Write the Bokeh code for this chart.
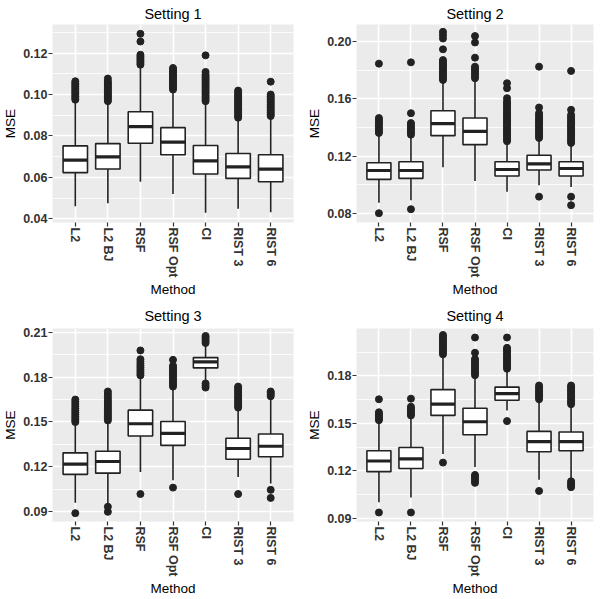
from bokeh.plotting import figure
from bokeh.models import FactorRange, Range1d, FixedTicker, ColumnDataSource
from bokeh.layouts import gridplot
from bokeh.transform import dodge
from bokeh.embed import file_html
from bokeh.resources import INLINE

methods = ["L2", "L2 BJ", "RSF", "RSF Opt", "CI", "RIST 3", "RIST 6"]

# ---- Setting 1 ----
s1_lo = [0.0460, 0.0475, 0.0579, 0.0520, 0.0429, 0.0448, 0.0432]
s1_q1 = [0.0623, 0.0640, 0.0765, 0.0709, 0.0616, 0.0595, 0.0579]
s1_med = [0.0683, 0.0699, 0.0845, 0.0770, 0.0680, 0.0651, 0.0640]
s1_q3 = [0.0752, 0.0763, 0.0917, 0.0840, 0.0754, 0.0715, 0.0709]
s1_hi = [0.0968, 0.0960, 0.1135, 0.1018, 0.0960, 0.0882, 0.0888]
s1_out = [
    [0.0975, 0.0983, 0.0991, 0.0999, 0.1007, 0.1015, 0.1023, 0.1031, 0.1039, 0.1047, 0.1055, 0.1064],
    [0.0968, 0.0976, 0.0984, 0.0992, 0.1000, 0.1008, 0.1016, 0.1024, 0.1032, 0.1040, 0.1048, 0.1056, 0.1064, 0.1077],
    [0.1144, 0.1152, 0.1160, 0.1168, 0.1176, 0.1184, 0.1192, 0.1256, 0.1293],
    [0.1024, 0.1032, 0.1040, 0.1048, 0.1056, 0.1064, 0.1072, 0.1080, 0.1088, 0.1096, 0.1104, 0.1112, 0.1120, 0.1128],
    [0.0968, 0.0976, 0.0984, 0.0992, 0.1000, 0.1008, 0.1016, 0.1024, 0.1032, 0.1040, 0.1048, 0.1056, 0.1064, 0.1072, 0.1080, 0.1088, 0.1096, 0.1109, 0.1189],
    [0.0888, 0.0896, 0.0904, 0.0912, 0.0920, 0.0928, 0.0936, 0.0944, 0.0952, 0.0960, 0.0968, 0.0976, 0.0984, 0.0992, 0.1000, 0.1010, 0.1019],
    [0.0896, 0.0904, 0.0912, 0.0920, 0.0928, 0.0936, 0.0944, 0.0952, 0.0960, 0.0968, 0.0976, 0.0984, 0.0992, 0.1000, 0.1062],
]
s1_ticks = [0.04, 0.06, 0.08, 0.10, 0.12]
s1_labels = ["0.04", "0.06", "0.08", "0.10", "0.12"]
s1_minor = [0.05, 0.07, 0.09, 0.11, 0.13]

# ---- Setting 2 ----
s2_lo = [0.0874, 0.0890, 0.1122, 0.1025, 0.0951, 0.0995, 0.0983]
s2_q1 = [0.1037, 0.1044, 0.1343, 0.1280, 0.1060, 0.1102, 0.1060]
s2_med = [0.1099, 0.1099, 0.1427, 0.1373, 0.1106, 0.1146, 0.1113]
s2_q3 = [0.1153, 0.1160, 0.1517, 0.1466, 0.1160, 0.1206, 0.1160]
s2_hi = [0.1355, 0.1345, 0.1725, 0.1735, 0.1300, 0.1320, 0.1288]
s2_out = [
    [0.0800, 0.1362, 0.1375, 0.1388, 0.1401, 0.1414, 0.1427, 0.1440, 0.1453, 0.1466, 0.1847],
    [0.0828, 0.1350, 0.1363, 0.1376, 0.1389, 0.1402, 0.1415, 0.1431, 0.1500, 0.1856],
    [0.1733, 0.1746, 0.1760, 0.1774, 0.1788, 0.1802, 0.1816, 0.1830, 0.1844, 0.1858, 0.1872, 0.1947, 0.2023, 0.2047, 0.2070],
    [0.1745, 0.1758, 0.1772, 0.1786, 0.1800, 0.1813, 0.1826, 0.1889, 0.1995, 0.2040],
    [0.1304, 0.1317, 0.1330, 0.1343, 0.1356, 0.1369, 0.1382, 0.1395, 0.1408, 0.1421, 0.1434, 0.1447, 0.1460, 0.1473, 0.1486, 0.1499, 0.1512, 0.1525, 0.1540, 0.1555, 0.1570, 0.1582, 0.1605, 0.1675, 0.1710],
    [0.0916, 0.1327, 0.1340, 0.1353, 0.1366, 0.1379, 0.1392, 0.1405, 0.1418, 0.1431, 0.1444, 0.1457, 0.1470, 0.1485, 0.1500, 0.1540, 0.1826],
    [0.0856, 0.0916, 0.1292, 0.1305, 0.1318, 0.1331, 0.1344, 0.1357, 0.1370, 0.1383, 0.1396, 0.1409, 0.1422, 0.1435, 0.1448, 0.1461, 0.1474, 0.1489, 0.1524, 0.1796],
]
s2_ticks = [0.08, 0.12, 0.16, 0.20]
s2_labels = ["0.08", "0.12", "0.16", "0.20"]
s2_minor = [0.10, 0.14, 0.18]

# ---- Setting 3 ----
s3_lo = [0.0958, 0.0952, 0.1164, 0.1110, 0.1765, 0.1131, 0.1088]
s3_q1 = [0.1149, 0.1157, 0.1406, 0.1343, 0.1862, 0.1250, 0.1267]
s3_med = [0.1218, 0.1235, 0.1488, 0.1423, 0.1903, 0.1322, 0.1337]
s3_q3 = [0.1293, 0.1304, 0.1579, 0.1503, 0.1931, 0.1391, 0.1419]
s3_hi = [0.1490, 0.1500, 0.1805, 0.1730, 0.2025, 0.1590, 0.1665]
s3_out = [
    [0.0889, 0.1499, 0.1512, 0.1525, 0.1538, 0.1551, 0.1564, 0.1577, 0.1590, 0.1605, 0.1620, 0.1635, 0.1650],
    [0.0898, 0.0932, 0.1510, 0.1523, 0.1536, 0.1549, 0.1562, 0.1575, 0.1588, 0.1601, 0.1614, 0.1627, 0.1640, 0.1655, 0.1670, 0.1687, 0.1704],
    [0.1017, 0.1812, 0.1825, 0.1838, 0.1851, 0.1864, 0.1877, 0.1890, 0.1905, 0.1920, 0.1979],
    [0.1060, 0.1737, 0.1750, 0.1763, 0.1776, 0.1789, 0.1802, 0.1815, 0.1828, 0.1841, 0.1854, 0.1866, 0.1877, 0.1916],
    [0.1730, 0.1744, 0.1758, 0.2029, 0.2041, 0.2053, 0.2065, 0.2076],
    [0.1017, 0.1596, 0.1609, 0.1622, 0.1635, 0.1648, 0.1661, 0.1674, 0.1687, 0.1700, 0.1713, 0.1726, 0.1737],
    [0.0991, 0.1045, 0.1672, 0.1685, 0.1695, 0.1704],
]
s3_ticks = [0.09, 0.12, 0.15, 0.18, 0.21]
s3_labels = ["0.09", "0.12", "0.15", "0.18", "0.21"]
s3_minor = [0.105, 0.135, 0.165, 0.195]

# ---- Setting 4 ----
s4_lo = [0.1002, 0.1032, 0.1306, 0.1225, 0.1581, 0.1144, 0.1124]
s4_q1 = [0.1195, 0.1215, 0.1550, 0.1428, 0.1646, 0.1321, 0.1327]
s4_med = [0.1262, 0.1276, 0.1621, 0.1510, 0.1688, 0.1384, 0.1384]
s4_q3 = [0.1327, 0.1347, 0.1713, 0.1595, 0.1729, 0.1449, 0.1445]
s4_hi = [0.1515, 0.1540, 0.1930, 0.1800, 0.1840, 0.1648, 0.1615]
s4_out = [
    [0.0937, 0.1520, 0.1530, 0.1540, 0.1550, 0.1560, 0.1570, 0.1652],
    [0.0937, 0.1550, 0.1560, 0.1570, 0.1582, 0.1594, 0.1605, 0.1656],
    [0.1252, 0.1936, 0.1948, 0.1960, 0.1972, 0.1984, 0.1996, 0.2008, 0.2020, 0.2032, 0.2045, 0.2058],
    [0.1124, 0.1137, 0.1150, 0.1162, 0.1174, 0.1804, 0.1817, 0.1830, 0.1843, 0.1856, 0.1869, 0.1882, 0.1894, 0.1906, 0.1946, 0.2042],
    [0.1514, 0.1845, 0.1857, 0.1869, 0.1881, 0.1893, 0.1905, 0.1917, 0.1929, 0.1941, 0.1953, 0.1965, 0.1977, 0.2042],
    [0.1073, 0.1652, 0.1664, 0.1676, 0.1688, 0.1700, 0.1712, 0.1725, 0.1739],
    [0.1097, 0.1110, 0.1122, 0.1134, 0.1621, 0.1633, 0.1645, 0.1657, 0.1669, 0.1681, 0.1693, 0.1705, 0.1717, 0.1728, 0.1739],
]
s4_ticks = [0.09, 0.12, 0.15, 0.18]
s4_labels = ["0.09", "0.12", "0.15", "0.18"]
s4_minor = [0.105, 0.135, 0.165, 0.195]

FONT = "Liberation Sans"
BG = "#EBEBEB"
INK = "#222222"


def make_panel(title, lo, q1, med, q3, hi, outs, ticks, labels, minor, ylim,
               width, height, left, top, bottom, title_gap):
    p = figure(width=width, height=height,
               x_range=FactorRange(factors=methods, range_padding=0.2,
                                   range_padding_units="absolute"),
               y_range=Range1d(ylim[0], ylim[1]),
               output_backend="svg", toolbar_location=None,
               min_border_left=left, min_border_right=7,
               min_border_top=top, min_border_bottom=bottom,
               background_fill_color=BG, border_fill_color="white",
               outline_line_color=None)
    p.title.text = title
    p.title.align = "center"
    p.title.text_font = FONT
    p.title.text_font_size = "14.5px"
    p.title.text_font_style = "normal"
    p.title.text_color = "black"
    p.title.standoff = title_gap

    # grid
    p.xgrid.grid_line_color = "white"
    p.xgrid.grid_line_width = 1.6
    p.ygrid.grid_line_color = "white"
    p.ygrid.grid_line_width = 1.6
    p.ygrid.minor_grid_line_color = "white"
    p.ygrid.minor_grid_line_width = 0.8

    p.yaxis.ticker = FixedTicker(ticks=ticks, minor_ticks=minor)
    p.yaxis.major_label_overrides = {t: l for t, l in zip(ticks, labels)}

    for ax in (p.xaxis[0], p.yaxis[0]):
        ax.axis_line_color = None
        ax.major_tick_line_color = "#333333"
        ax.major_tick_line_width = 1.2
        ax.major_tick_out = 4
        ax.major_tick_in = 0
        ax.minor_tick_line_color = None
        ax.major_label_text_font = FONT
        ax.major_label_text_font_size = "12.5px"
        ax.major_label_text_font_style = "bold"
        ax.major_label_text_color = "#333333"
        ax.major_label_standoff = 1
        ax.axis_label_text_font = FONT
        ax.axis_label_text_font_size = "13.5px"
        ax.axis_label_text_font_style = "normal"
        ax.axis_label_text_color = "black"
        ax.axis_label_standoff = 2
    p.xaxis.major_label_orientation = "vertical"
    p.xaxis.axis_label = "Method"
    p.yaxis.axis_label = "MSE"

    src = ColumnDataSource(dict(m=methods, lo=lo, q1=q1, med=med, q3=q3, hi=hi))
    p.segment(x0="m", y0="lo", x1="m", y1="q1", source=src, line_color=INK, line_width=1.6)
    p.segment(x0="m", y0="q3", x1="m", y1="hi", source=src, line_color=INK, line_width=1.6)
    p.vbar(x="m", bottom="q1", top="q3", width=0.75, source=src,
           fill_color="white", line_color=INK, line_width=1.6)
    p.segment(x0=dodge("m", -0.375, range=p.x_range), y0="med",
              x1=dodge("m", 0.375, range=p.x_range), y1="med",
              source=src, line_color=INK, line_width=3.2)

    ox, oy = [], []
    for m, vals in zip(methods, outs):
        for v in vals:
            ox.append(m)
            oy.append(v)
    p.scatter(x=ox, y=oy, size=7, fill_color=INK, line_color=INK)
    return p


p1 = make_panel("Setting 1", s1_lo, s1_q1, s1_med, s1_q3, s1_hi, s1_out,
                s1_ticks, s1_labels, s1_minor, (0.0382, 0.1338),
                300, 300, 45, 23, 78, 6)
p2 = make_panel("Setting 2", s2_lo, s2_q1, s2_med, s2_q3, s2_hi, s2_out,
                s2_ticks, s2_labels, s2_minor, (0.0735, 0.2121),
                300, 300, 53, 23, 78, 6)
p3 = make_panel("Setting 3", s3_lo, s3_q1, s3_med, s3_q3, s3_hi, s3_out,
                s3_ticks, s3_labels, s3_minor, (0.0833, 0.2126),
                300, 299, 47, 28, 71, 9)
p4 = make_panel("Setting 4", s4_lo, s4_q1, s4_med, s4_q3, s4_hi, s4_out,
                s4_ticks, s4_labels, s4_minor, (0.0880, 0.2099),
                300, 299, 56, 28, 71, 9)

grid = gridplot([[p1, p2], [p3, p4]], toolbar_location=None)

with open("out.html", "w") as f:
    f.write(file_html(grid, INLINE))
